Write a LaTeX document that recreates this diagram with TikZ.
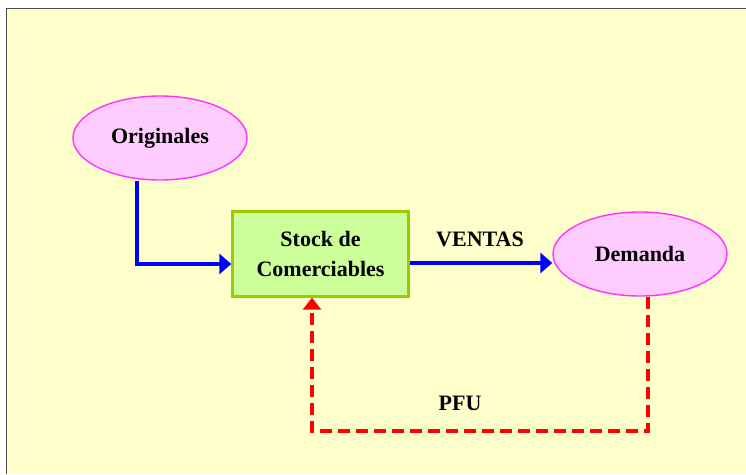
\documentclass[tikz,border=0pt]{standalone}
\usepackage{fontspec}
\setmainfont{Liberation Serif}
\usetikzlibrary{shapes.geometric,arrows.meta}
\definecolor{paper}{HTML}{FFFFCC}
\definecolor{pinkfill}{HTML}{FFCCFF}
\definecolor{pinkline}{HTML}{FF33FF}
\definecolor{greenfill}{HTML}{CCFF99}
\definecolor{greenline}{HTML}{99CC00}
\tikzset{
  labelfont/.style={font=\fontsize{22}{30}\selectfont\bfseries},
  oval/.style={ellipse, draw=pinkline, fill=pinkfill, line width=1.4pt,
    minimum width=174pt, minimum height=84pt, inner sep=0pt, labelfont},
  stockbox/.style={rectangle, draw=greenline, fill=greenfill, line width=2.4pt,
    minimum width=176pt, minimum height=85pt, align=center, labelfont},
  flow/.style={draw=blue, line width=4.2pt, -{Triangle[length=12pt,width=20pt]}},
  feedback/.style={draw=red, line width=4pt, dash pattern=on 12pt off 6pt,
    -{Triangle[length=12pt,width=18pt]}},
  tag/.style={labelfont}
}
\begin{document}
\begin{tikzpicture}[x=1pt,y=-1pt]
  \useasboundingbox (0,0) rectangle (746,474);
  % page background and frame
  \fill[white] (0,0) rectangle (746,474);
  \fill[paper] (6,8) rectangle (746,474);
  \draw[black!70, line width=1.2pt] (6.5,474) -- (6.5,8.5) -- (746,8.5);

  \node[oval] (orig) at (160,138) {Originales};
  \node[stockbox] (stock) at (320.5,254) {Stock de\\Comerciables};
  \node[oval] (dem) at (640,254) {Demanda};

  \coordinate (corner1) at (137,264);
  \coordinate (c2) at (648,431);
  \coordinate (c3) at (312,431);

  \draw[flow] (orig.south -| corner1) -- (corner1) -- (stock.west |- corner1);
  \draw[flow] (stock.east |- 0,263) -- (dem.west |- 0,263);
  \node[tag] (ventas) at (480,239) {VENTAS};

  \draw[feedback] (dem.south -| c2) -- (c2) -- (c3) -- (stock.south -| c3);
  \node[tag] (pfu) at (460,403) {PFU};
\end{tikzpicture}
\end{document}
